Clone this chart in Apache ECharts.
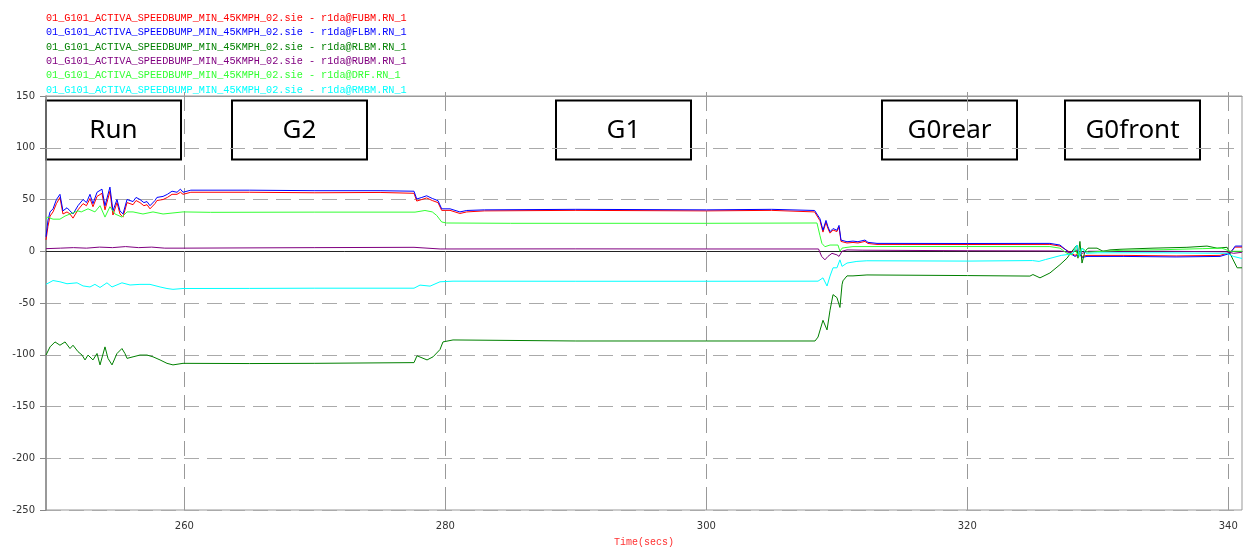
<!DOCTYPE html>
<html><head><meta charset="utf-8">
<script src="https://cdn.jsdelivr.net/npm/echarts@6/dist/echarts.min.js"></script>
<style>html,body{margin:0;padding:0;background:#fff}#c{width:1248px;height:552px}</style>
</head><body><div id="c"></div>
<script>
// ---- data ----
const filePrefix = '01_G101_ACTIVA_SPEEDBUMP_MIN_45KMPH_02.sie - r1da@';
const channels = ['FUBM.RN_1', 'FLBM.RN_1', 'RLBM.RN_1', 'RUBM.RN_1', 'DRF.RN_1', 'RMBM.RN_1'];
const xTickValues = [260, 280, 300, 320, 340];
const xRange = [249.4, 341.05];
const yRange = [-250, 150];
const boxLabels = ['Run', 'G2', 'G1', 'G0rear', 'G0front'];
const xAxisTitle = 'Time(secs)';

const fubm = [[249.40,11],[249.55,24],[249.71,34],[249.94,38],[250.20,46],[250.47,52],[250.70,36],[251.01,38],[251.24,36],[251.47,32],[251.85,40],[252.24,46],[252.50,44],[252.77,51],[253.00,43],[253.31,53],[253.69,56],[253.92,40],[254.30,58],[254.53,35],[254.84,47],[255.07,36],[255.30,33],[255.61,47],[256.07,45],[256.30,49],[256.60,47],[256.90,44],[257.14,45],[257.37,41],[257.75,46],[257.90,49],[258.37,50],[258.70,52],[259.06,55],[259.44,55],[259.70,57],[259.90,55],[260.5,57],[265,57],[270,56.5],[275,56.8],[277.6,56],[277.81,48.5],[278.2,50],[278.57,51.5],[279.0,49],[279.44,47],[279.72,39.5],[280.36,39.5],[281.12,36.5],[281.64,38],[283,39],[290,39.5],[300,39],[305,39.5],[308.3,38],[308.71,29.5],[308.94,18.5],[309.17,28],[309.32,22],[309.48,17.5],[309.71,20.5],[310.01,19],[310.17,23.5],[310.32,9.5],[310.47,11],[310.78,8],[311.24,8.5],[311.62,8],[312.16,9.5],[312.39,7.5],[313.08,6.6],[320,6.5],[326.33,6.6],[327.10,5],[327.87,-1],[328.25,-4],[328.6,-2],[328.8,-5],[329.17,-4],[332,-4],[336,-4.5],[339.37,-4],[340.14,-1],[340.53,4],[341.05,4]];

const flbm = [[249.40,14],[249.55,30],[249.71,38],[249.94,41],[250.20,50],[250.47,55],[250.70,39],[251.01,42],[251.24,39],[251.47,36],[251.85,44],[252.24,50],[252.50,47],[252.77,55],[253.00,46],[253.31,57],[253.69,60],[253.92,44],[254.30,62],[254.53,39],[254.84,50],[255.07,39],[255.30,36],[255.61,50],[256.07,48],[256.30,52],[256.60,50],[256.90,47],[257.14,48],[257.37,44],[257.75,49],[257.90,52],[258.37,53],[258.70,55],[259.06,58],[259.44,57],[259.70,60],[259.90,57],[260.5,59],[265,59],[270,58.5],[275,58.5],[277.6,58],[277.81,50.5],[278.2,52],[278.57,53.6],[279.0,51],[279.44,48.9],[279.72,41],[280.36,41],[281.12,38],[281.64,39.4],[283,40],[290,40.5],[300,40],[305,40.5],[308.3,39.4],[308.71,31.4],[308.94,20.3],[309.17,29.8],[309.32,23.8],[309.48,18.8],[309.71,21.9],[310.01,20.3],[310.17,25],[310.32,10.8],[310.47,12.4],[310.78,9.2],[311.24,9.8],[311.62,9.2],[312.16,10.8],[312.39,8.6],[313.08,7.6],[320,7.5],[326.33,7.6],[327.10,6],[327.87,-2],[328.25,-5],[328.6,-3],[328.8,-6],[329.17,-5],[332,-5],[336,-5.5],[339.37,-5],[340.14,-2],[340.53,5],[341.05,5]];

const rlbm = [[249.40,-100.3],[249.71,-92.4],[250.09,-87.6],[250.47,-90.8],[250.86,-87.6],[251.24,-94],[251.47,-90.8],[251.85,-97],[252.16,-100.3],[252.39,-105],[252.62,-100.3],[253.00,-105],[253.31,-98.8],[253.54,-109.8],[253.92,-92.4],[254.15,-103.5],[254.46,-109.8],[254.84,-98.8],[255.22,-94],[255.45,-98.8],[255.61,-103.5],[256.07,-102],[256.60,-100.3],[257.14,-100.3],[257.60,-102],[258.14,-105],[258.67,-108.3],[259.13,-109.8],[259.90,-108.3],[265,-108.5],[270,-108.3],[277.6,-107.6],[277.83,-101],[278.60,-105],[279.06,-102],[279.59,-95],[279.82,-87.6],[280.59,-85.7],[290,-86.7],[300,-86.7],[308.33,-86.7],[308.56,-82.9],[308.94,-66.7],[309.25,-76],[309.48,-57],[309.71,-41.9],[310.01,-44.8],[310.24,-54.3],[310.40,-32.4],[310.47,-28.6],[310.78,-23.8],[311.24,-23.8],[312.31,-22.9],[320,-23.5],[324.8,-24],[325.03,-22.5],[325.57,-25.7],[326.33,-21],[327.10,-13],[327.64,-6.7],[328.02,0],[328.40,6],[328.48,-6.7],[328.63,9.5],[328.79,-11.4],[329.02,0],[329.25,3],[329.94,3],[330.40,0],[330.93,1.3],[331.70,1.9],[334.23,3],[336.83,3.8],[338.37,5],[339.14,3],[339.91,3.8],[340.37,-8.3],[340.68,-16],[341.05,-16]];

const rubm = [[249.40,2.5],[250.5,3],[251.5,3.5],[252.5,3],[253.5,4],[254.5,3.5],[255.5,4.5],[256.5,3.5],[257.5,4],[258.5,3],[259.9,3],[270,3.5],[277.6,3.8],[279.6,2.2],[290,2.3],[300,2.2],[308.6,2.2],[308.84,-5],[309.09,-8.3],[309.32,-5],[309.63,-2],[310.01,-3.5],[310.17,-5],[310.40,0],[310.78,1.3],[312,1],[320,0.5],[327.10,0.3],[327.8,-1],[328.4,1],[328.8,-2],[329.3,0],[335,0],[339.9,-0.5],[340.4,-2],[341.05,-1]];

const drf = [[249.40,31],[249.50,33],[249.94,31],[250.47,31],[250.86,34],[251.24,36],[251.85,39],[252.10,38],[252.62,41],[253.15,38],[253.54,44],[253.92,33],[254.30,43],[254.69,36],[255.22,33],[255.61,38],[256.07,38],[256.83,36],[257.60,38],[258.37,36],[259.13,37],[259.90,38],[262,37.6],[270,37.8],[277.68,37.8],[278.44,39.4],[279.0,38],[279.34,34.6],[279.72,28.3],[280.10,27.3],[285,27],[300,27],[308.48,27.3],[308.71,15],[308.86,7.6],[309.09,4.4],[309.48,6],[310.09,6],[310.24,0],[310.40,3],[310.62,3.5],[311.24,4.5],[315,4.6],[326.33,4.5],[327.10,3],[327.64,-2],[328.02,-3.5],[328.25,2],[328.48,-4],[328.79,3],[329.25,-1],[330.4,0],[332,1],[335,1.5],[338,2.5],[339.5,3],[340.14,0],[341.05,0]];

const rmbm = [[249.40,-32],[249.94,-28.3],[250.47,-29.5],[251.01,-31.4],[251.78,-30.5],[252.24,-33.5],[252.77,-34.5],[253.15,-32],[253.54,-35],[254.07,-30.5],[254.46,-34.5],[255.22,-30.5],[255.84,-32.6],[256.60,-32],[257.37,-32],[258.14,-34.5],[258.67,-36],[259.13,-36.8],[259.90,-36],[265,-35.9],[270,-35.7],[277.6,-35.7],[278.06,-32.7],[278.83,-33.7],[279.59,-29.5],[280.59,-28.9],[290,-29],[300,-29],[308.56,-28.9],[308.71,-27.3],[308.94,-25.7],[309.25,-33.6],[309.48,-24],[309.71,-16],[310.01,-16],[310.24,-8.3],[310.40,-14.6],[310.78,-11.4],[311.54,-9.8],[312.3,-9.2],[320,-9.5],[325.0,-9],[325.5,-9.8],[326.0,-8],[327.2,-4],[327.8,-3],[328.1,-2],[328.4,6],[328.6,-5],[328.8,3],[329.1,-2],[330,-1.5],[335,-1.5],[339.9,-2],[340.4,-5],[341.05,-7]];

const seriesData = [fubm, flbm, rlbm, rubm, drf, rmbm];

// ---- styles ----
const colors = ['#ff0000', '#0000ff', '#008000', '#800080', '#33ff33', '#00ffff'];
const boxX = [46, 232, 556, 882, 1065];

const names = channels.map(c => filePrefix + c);
const chart = echarts.init(document.getElementById('c'), null, {renderer: 'canvas'});
const gridDash = [15, 8];

chart.setOption({
  animation: false,
  backgroundColor: '#fff',
  grid: {left: 46, right: 6, top: 96, bottom: 36, show: true, borderColor: '#999', borderWidth: 1, backgroundColor: 'transparent'},
  legend: {
    orient: 'vertical', left: 41, top: 11, padding: 0, itemGap: 0,
    itemWidth: 0, itemHeight: 0, icon: 'none', selectedMode: false,
    textStyle: {fontFamily: '"Liberation Mono", monospace', fontSize: 10.2, lineHeight: 14.4},
    data: names.map((n, i) => ({name: n, textStyle: {color: colors[i]}}))
  },
  xAxis: [
    {
      type: 'value', min: xRange[0], max: xRange[1],
      name: xAxisTitle, nameLocation: 'middle', nameGap: 27,
      nameTextStyle: {color: '#ff3030', fontFamily: '"Liberation Mono", monospace', fontSize: 10},
      axisLine: {show: true, lineStyle: {color: '#222', width: 1}},
      axisTick: {show: true, customValues: xTickValues, length: 9, lineStyle: {color: '#999'}},
      axisLabel: {customValues: xTickValues, margin: 11, color: '#333', fontFamily: '"DejaVu Sans"', fontSize: 10},
      splitLine: {show: true, lineStyle: {type: gridDash, color: '#999', width: 1}}
    },
    {
      type: 'value', min: xRange[0], max: xRange[1], position: 'bottom',
      axisLine: {show: false}, axisLabel: {show: false}, splitLine: {show: false},
      axisTick: {show: true, inside: true, customValues: xTickValues, length: 13, lineStyle: {color: '#999'}}
    },
    {
      type: 'value', min: xRange[0], max: xRange[1], position: 'top',
      axisLine: {show: true, lineStyle: {color: '#999'}}, axisLabel: {show: false}, splitLine: {show: false},
      axisTick: {show: true, customValues: xTickValues, length: 4, lineStyle: {color: '#999'}}
    }
  ],
  yAxis: {
    type: 'value', min: yRange[0], max: yRange[1], interval: 50,
    axisLine: {show: true, lineStyle: {color: '#888', width: 1.5}},
    axisTick: {show: true, length: 6, lineStyle: {color: '#888'}},
    axisLabel: {margin: 11, color: '#333', fontFamily: '"DejaVu Sans"', fontSize: 10},
    splitLine: {show: true, lineStyle: {type: gridDash, color: '#aaa', width: 1}}
  },
  series: names.map((n, i) => ({
    name: n, type: 'line', data: seriesData[i], xAxisIndex: 0,
    showSymbol: false, symbol: 'none',
    lineStyle: {color: colors[i], width: 1}, itemStyle: {color: colors[i]},
    emphasis: {disabled: true}
  })),
  graphic: boxLabels.map((t, i) => ({
    type: 'group', x: boxX[i], y: 100.5, z: 100,
    children: [
      {type: 'rect', shape: {x: 0, y: 0, width: 135, height: 59}, style: {fill: '#fff', stroke: '#000', lineWidth: 2}},
      {type: 'text', x: 67.5, y: 30, style: {text: t, align: 'center', verticalAlign: 'middle', font: '26px "Noto Sans"', fill: '#000'}}
    ]
  }))
});
</script>
</body></html>
